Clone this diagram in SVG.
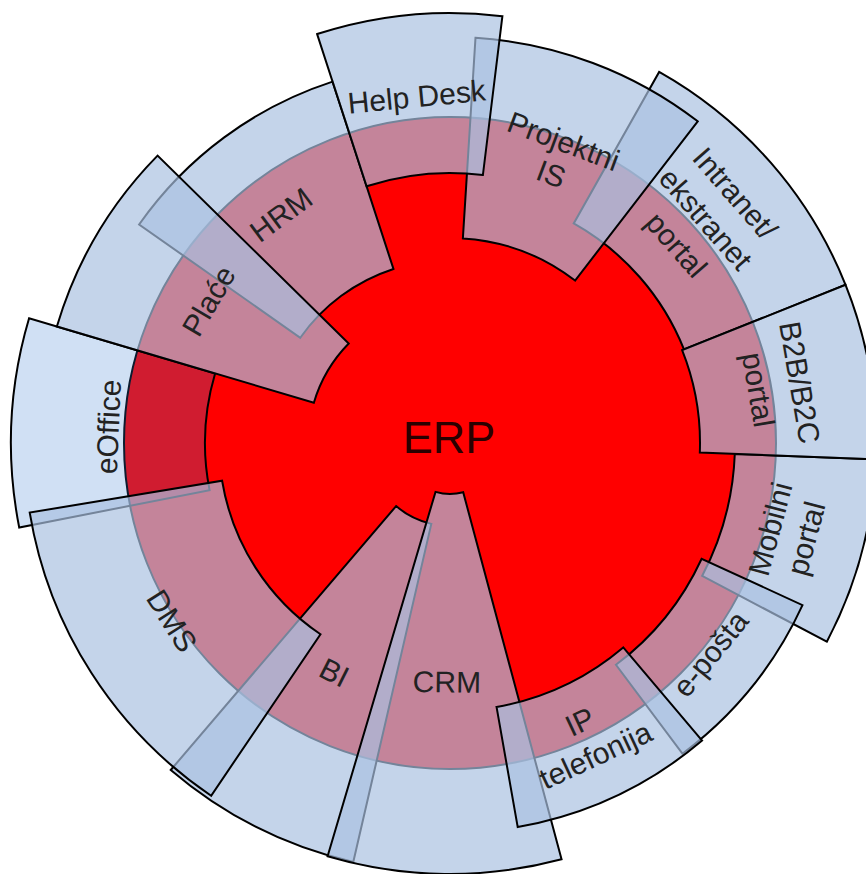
<svg xmlns="http://www.w3.org/2000/svg" width="866" height="874" viewBox="0 0 866 874">
<style>
.seg{fill:#a9c0e1;fill-opacity:0.686;stroke:#000;stroke-width:2;stroke-linejoin:miter}
.eoff{fill:#3479d0;fill-opacity:0.231;stroke:#000;stroke-width:2}
.core{fill:#ff0000;stroke:#000;stroke-width:2}
.lbl{font-family:"Liberation Sans",Arial,sans-serif;font-size:30px;fill:#222;text-anchor:middle}
.erp{font-family:"Liberation Sans",Arial,sans-serif;font-size:45px;fill:#2a0000;text-anchor:middle}
</style>
<rect width="866" height="874" fill="#fff"/>
<g id="ERP">
<circle class="core" cx="450" cy="443" r="326"/>
</g>
<g id="eOffice">
<path class="eoff" d="M 19.21 527.52 A 439 439 0 0 1 29.08 318.32 L 215.09 373.42 A 245 245 0 0 0 209.58 490.17 Z"/>
<text class="lbl" transform="translate(450 443) rotate(182.7) translate(342 0) rotate(90)" y="10.5">eOffice</text>
</g>
<g id="HRM">
<path class="seg" d="M 139.10 224.50 A 380 380 0 0 1 332.57 81.60 L 393.45 268.96 A 183 183 0 0 0 300.28 337.77 Z"/>
<text class="lbl" transform="translate(450 443) rotate(-126.5) translate(284 0) rotate(90)" y="10.5">HRM</text>
</g>
<g id="Place">
<path class="seg" d="M 56.88 326.55 A 410 410 0 0 1 157.57 155.63 L 348.72 343.47 A 142 142 0 0 0 313.85 402.67 Z"/>
<text class="lbl" transform="translate(450 443) rotate(-149.5) translate(280 0) rotate(90)" y="10.5">Plaće</text>
</g>
<g id="BI">
<path class="seg" d="M 353.27 861.98 A 430 430 0 0 1 170.74 769.98 L 396.10 506.11 A 83 83 0 0 0 431.33 523.87 Z"/>
<text class="lbl" transform="translate(450 443) rotate(116.75) translate(257 0) rotate(-90)" y="10.5">BI</text>
</g>
<g id="CRM">
<path class="seg" d="M 561.55 859.32 A 431 431 0 0 1 327.59 856.25 L 435.51 491.90 A 51 51 0 0 0 463.20 492.26 Z"/>
<text class="lbl" transform="translate(450 443) rotate(90.75) translate(239 0) rotate(-90)" y="10.5">CRM</text>
</g>
<g id="DMS">
<path class="seg" d="M 211.14 795.74 A 426 426 0 0 1 29.72 512.58 L 222.10 480.73 A 231 231 0 0 0 320.48 634.27 Z"/>
<text class="lbl" transform="translate(450 443) rotate(147.4) translate(330 0) rotate(-90)" y="10.5">DMS</text>
</g>
<g id="Mobilni">
<path class="seg" d="M 875.69 459.35 A 426 426 0 0 1 826.83 641.68 L 702.11 575.92 A 285 285 0 0 0 734.79 453.94 Z"/>
<text class="lbl" transform="translate(450 443) rotate(15) translate(350 0) rotate(-90)"><tspan x="0" y="-8">Mobilni</tspan><tspan x="0" y="29">portal</tspan></text>
</g>
<g id="eposta">
<path class="seg" d="M 802.50 605.13 A 388 388 0 0 1 682.42 753.68 L 615.93 664.80 A 277 277 0 0 0 701.66 558.75 Z"/>
<text class="lbl" transform="translate(450 443) rotate(39) translate(335 0) rotate(-90)" y="10.5">e-pošta</text>
</g>
<g id="IP">
<path class="seg" d="M 702.10 740.55 A 390 390 0 0 1 517.72 827.08 L 496.54 706.93 A 268 268 0 0 0 623.24 647.47 Z"/>
<text class="lbl" transform="translate(450 443) rotate(65) translate(326 0) rotate(-90)"><tspan x="0" y="-8">IP</tspan><tspan x="0" y="29">telefonija</tspan></text>
</g>
<g id="Intranet">
<path class="seg" d="M 659.16 71.89 A 426 426 0 0 1 845.54 284.80 L 683.98 349.41 A 252 252 0 0 0 573.73 223.47 Z"/>
<text class="lbl" transform="translate(450 443) rotate(-41.2) translate(340 0) rotate(90)"><tspan x="0" y="-28.5">Intranet/</tspan><tspan x="0" y="10.5">ekstranet</tspan><tspan x="0" y="49.5">portal</tspan></text>
</g>
<g id="Projektni">
<path class="seg" d="M 475.49 37.80 A 406 406 0 0 1 697.72 121.33 L 575.08 280.58 A 205 205 0 0 0 462.87 238.40 Z"/>
<text class="lbl" transform="translate(450 443) rotate(-69.4) translate(305 0) rotate(90)"><tspan x="0" y="-7">Projektni</tspan><tspan x="0" y="28">IS</tspan></text>
</g>
<g id="HelpDesk">
<path class="seg" d="M 317.12 34.04 A 430 430 0 0 1 502.40 16.20 L 482.90 175.01 A 270 270 0 0 0 366.56 186.21 Z"/>
<text class="lbl" transform="translate(450 443) rotate(-95.5) translate(348 0) rotate(90)" y="10.5">Help Desk</text>
</g>
<g id="B2B">
<path class="seg" d="M 845.54 284.80 A 426 426 0 0 1 875.69 459.35 L 699.82 452.60 A 250 250 0 0 0 682.12 350.16 Z"/>
<text class="lbl" transform="translate(450 443) rotate(-9.8) translate(334 0) rotate(90)"><tspan x="0" y="-10.5">B2B/B2C</tspan><tspan x="0" y="31.5">portal</tspan></text>
</g>
<g id="ERP-label">
<text class="erp" x="449" y="453">ERP</text>
</g>
<g id="connectors"/>
</svg>
